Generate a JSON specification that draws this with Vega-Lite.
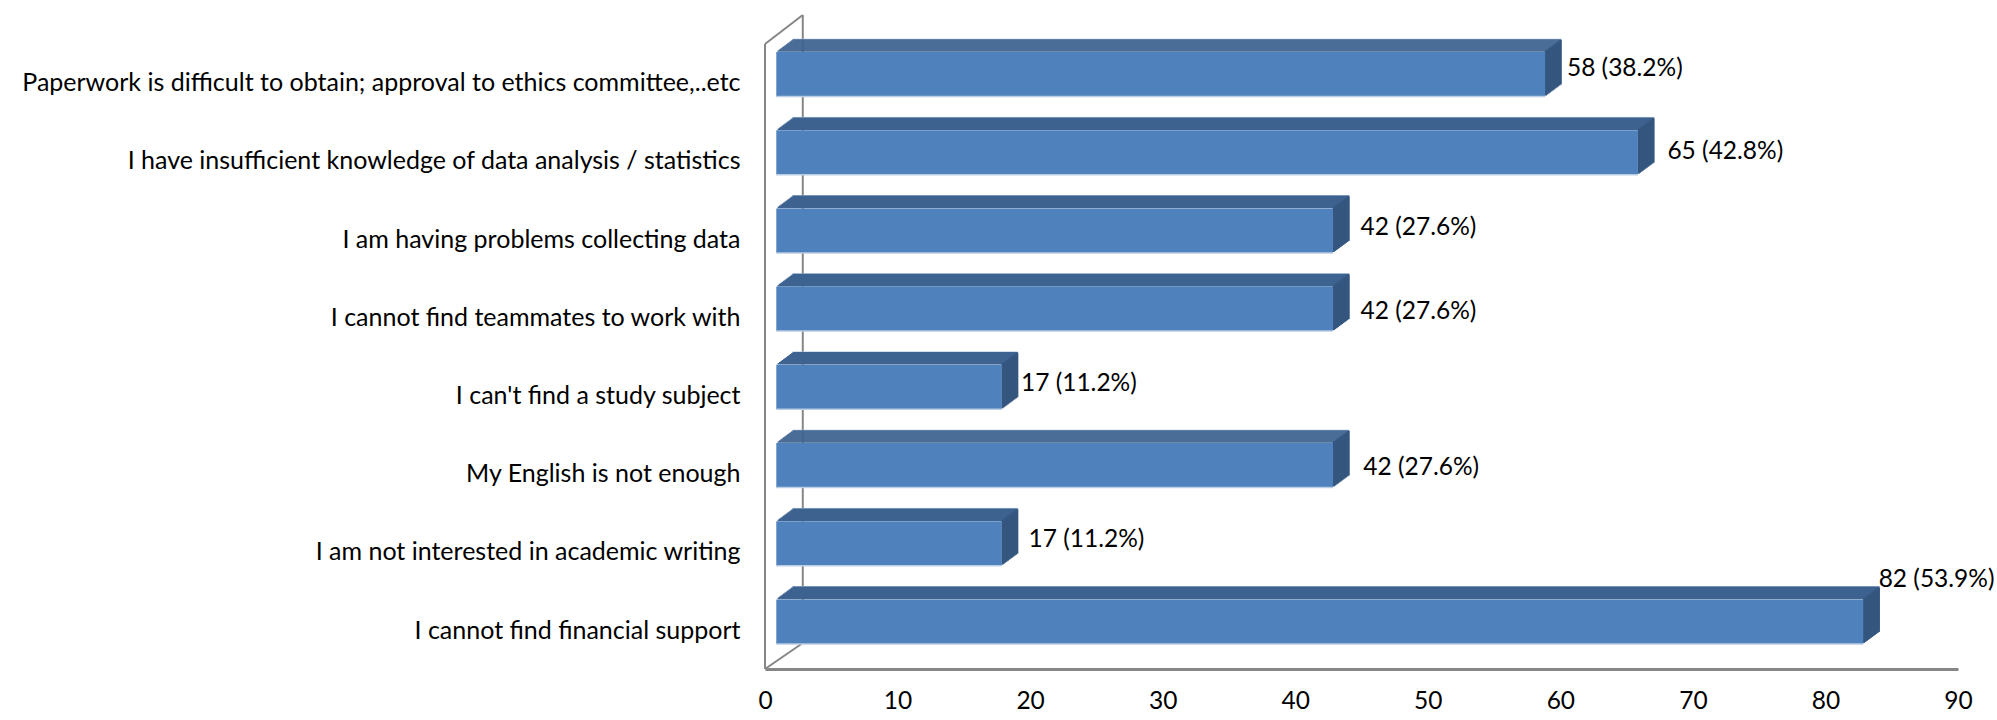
{"$schema":"https://vega.github.io/schema/vega-lite/v6.json","width":1193,"height":654,"autosize":{"type":"none"},"padding":{"left":765,"top":15,"right":39,"bottom":51},"background":"white",
"datasets":{"bars":[
{"reason":"Paperwork is difficult to obtain; approval to ethics committee,..etc","value":58,"label":"58 (38.2%)"},
{"reason":"I have insufficient knowledge of data analysis / statistics","value":65,"label":"65 (42.8%)"},
{"reason":"I am having problems collecting data","value":42,"label":"42 (27.6%)"},
{"reason":"I cannot find teammates to work with","value":42,"label":"42 (27.6%)"},
{"reason":"I can't find a study subject","value":17,"label":"17 (11.2%)"},
{"reason":"My English is not enough","value":42,"label":"42 (27.6%)"},
{"reason":"I am not interested in academic writing","value":17,"label":"17 (11.2%)"},
{"reason":"I cannot find financial support","value":82,"label":"82 (53.9%)"}]},
"config":{"view":{"stroke":null},"text":{"font":"Lato","fontSize":24.5,"color":"#000000","align":"left","baseline":"middle"}},
"resolve":{"scale":{"y":"independent"}},
"layer":[
{"data":{"values":[{}]},"layer":[
{"mark":{"type":"rule","color":"#868686","strokeWidth":2},"encoding":{"x":{"datum":0,"type":"quantitative","title":null,"scale":{"domain":[0,90]},"axis":{"grid":false,"ticks":false,"domainColor":"#868686","domainWidth":3,"labelFont":"Lato","labelFontSize":24.5,"labelColor":"#000000","labelPadding":20,"labelAngle":0,"labelFlush":false,"values":[0,10,20,30,40,50,60,70,80,90]}},"y":{"datum":0,"type":"quantitative","title":null,"axis":null,"scale":{"domain":[0,654],"nice":false}},"y2":{"datum":625}}},
{"mark":{"type":"rule","color":"#868686","strokeWidth":2},"encoding":{"x":{"datum":2.85,"type":"quantitative","title":null},"y":{"datum":26,"type":"quantitative","title":null,"axis":null},"y2":{"datum":654}}},
{"mark":{"type":"rule","color":"#868686","strokeWidth":2},"encoding":{"x":{"datum":0,"type":"quantitative","title":null},"x2":{"datum":2.85},"y":{"datum":625,"type":"quantitative","title":null,"axis":null},"y2":{"datum":654}}},
{"mark":{"type":"rule","color":"#868686","strokeWidth":2},"encoding":{"x":{"datum":0,"type":"quantitative","title":null},"x2":{"datum":2.85},"y":{"datum":0,"type":"quantitative","title":null,"axis":null},"y2":{"datum":26}}}
]},
{"data":{"name":"bars"},
"encoding":{"y":{"field":"reason","type":"nominal","sort":null,"title":null,"scale":{"paddingInner":0.431,"paddingOuter":0.397,"align":0.596},"axis":{"domain":false,"ticks":false,"labelFont":"Lato","labelFontSize":25,"labelColor":"#000000","labelLimit":800,"labelPadding":25,"labelOffset":9}},"x":{"field":"value","type":"quantitative","title":null}},
"layer":[
{"mark":{"type":"rule","color":"#A9C1DF","strokeWidth":1,"xOffset":27.5,"x2Offset":27.5,"yOffset":-12.8},"encoding":{"x":{"datum":0,"type":"quantitative","title":null},"x2":{"field":"value"},"y":{"field":"reason","type":"nominal","sort":null,"bandPosition":0,"title":null}}},
{"mark":{"type":"rule","color":"#3E6390","strokeWidth":1.6,"xOffset":27.5,"x2Offset":27.5,"yOffset":-12},"encoding":{"x":{"datum":0,"type":"quantitative","title":null},"x2":{"field":"value"},"y":{"field":"reason","type":"nominal","sort":null,"bandPosition":0,"title":null}}},
{"mark":{"type":"bar","color":"#34567F","xOffset":25,"x2Offset":28,"yOffset":-12},"encoding":{"x2":{"field":"value"}}},
{"mark":{"type":"rule","color":"#3E6390","strokeWidth":1.6,"xOffset":26.15,"x2Offset":26.15,"yOffset":-11},"encoding":{"x":{"datum":0,"type":"quantitative","title":null},"x2":{"field":"value"},"y":{"field":"reason","type":"nominal","sort":null,"bandPosition":0,"title":null}}},
{"mark":{"type":"bar","color":"#34567F","xOffset":23.65,"x2Offset":26.65,"yOffset":-11},"encoding":{"x2":{"field":"value"}}},
{"mark":{"type":"rule","color":"#3E6390","strokeWidth":1.6,"xOffset":24.8,"x2Offset":24.8,"yOffset":-10},"encoding":{"x":{"datum":0,"type":"quantitative","title":null},"x2":{"field":"value"},"y":{"field":"reason","type":"nominal","sort":null,"bandPosition":0,"title":null}}},
{"mark":{"type":"bar","color":"#34567F","xOffset":22.3,"x2Offset":25.3,"yOffset":-10},"encoding":{"x2":{"field":"value"}}},
{"mark":{"type":"rule","color":"#3E6390","strokeWidth":1.6,"xOffset":23.45,"x2Offset":23.45,"yOffset":-9},"encoding":{"x":{"datum":0,"type":"quantitative","title":null},"x2":{"field":"value"},"y":{"field":"reason","type":"nominal","sort":null,"bandPosition":0,"title":null}}},
{"mark":{"type":"bar","color":"#34567F","xOffset":20.95,"x2Offset":23.95,"yOffset":-9},"encoding":{"x2":{"field":"value"}}},
{"mark":{"type":"rule","color":"#3E6390","strokeWidth":1.6,"xOffset":22.1,"x2Offset":22.1,"yOffset":-8},"encoding":{"x":{"datum":0,"type":"quantitative","title":null},"x2":{"field":"value"},"y":{"field":"reason","type":"nominal","sort":null,"bandPosition":0,"title":null}}},
{"mark":{"type":"bar","color":"#34567F","xOffset":19.6,"x2Offset":22.6,"yOffset":-8},"encoding":{"x2":{"field":"value"}}},
{"mark":{"type":"rule","color":"#3E6390","strokeWidth":1.6,"xOffset":20.75,"x2Offset":20.75,"yOffset":-7},"encoding":{"x":{"datum":0,"type":"quantitative","title":null},"x2":{"field":"value"},"y":{"field":"reason","type":"nominal","sort":null,"bandPosition":0,"title":null}}},
{"mark":{"type":"bar","color":"#34567F","xOffset":18.25,"x2Offset":21.25,"yOffset":-7},"encoding":{"x2":{"field":"value"}}},
{"mark":{"type":"rule","color":"#3E6390","strokeWidth":1.6,"xOffset":19.4,"x2Offset":19.4,"yOffset":-6},"encoding":{"x":{"datum":0,"type":"quantitative","title":null},"x2":{"field":"value"},"y":{"field":"reason","type":"nominal","sort":null,"bandPosition":0,"title":null}}},
{"mark":{"type":"bar","color":"#34567F","xOffset":16.9,"x2Offset":19.9,"yOffset":-6},"encoding":{"x2":{"field":"value"}}},
{"mark":{"type":"rule","color":"#3E6390","strokeWidth":1.6,"xOffset":18.05,"x2Offset":18.05,"yOffset":-5},"encoding":{"x":{"datum":0,"type":"quantitative","title":null},"x2":{"field":"value"},"y":{"field":"reason","type":"nominal","sort":null,"bandPosition":0,"title":null}}},
{"mark":{"type":"bar","color":"#34567F","xOffset":15.55,"x2Offset":18.55,"yOffset":-5},"encoding":{"x2":{"field":"value"}}},
{"mark":{"type":"rule","color":"#3E6390","strokeWidth":1.6,"xOffset":16.7,"x2Offset":16.7,"yOffset":-4},"encoding":{"x":{"datum":0,"type":"quantitative","title":null},"x2":{"field":"value"},"y":{"field":"reason","type":"nominal","sort":null,"bandPosition":0,"title":null}}},
{"mark":{"type":"bar","color":"#34567F","xOffset":14.2,"x2Offset":17.2,"yOffset":-4},"encoding":{"x2":{"field":"value"}}},
{"mark":{"type":"rule","color":"#3E6390","strokeWidth":1.6,"xOffset":15.35,"x2Offset":15.35,"yOffset":-3},"encoding":{"x":{"datum":0,"type":"quantitative","title":null},"x2":{"field":"value"},"y":{"field":"reason","type":"nominal","sort":null,"bandPosition":0,"title":null}}},
{"mark":{"type":"bar","color":"#34567F","xOffset":12.85,"x2Offset":15.85,"yOffset":-3},"encoding":{"x2":{"field":"value"}}},
{"mark":{"type":"rule","color":"#3E6390","strokeWidth":1.6,"xOffset":14,"x2Offset":14,"yOffset":-2},"encoding":{"x":{"datum":0,"type":"quantitative","title":null},"x2":{"field":"value"},"y":{"field":"reason","type":"nominal","sort":null,"bandPosition":0,"title":null}}},
{"mark":{"type":"bar","color":"#34567F","xOffset":11.5,"x2Offset":14.5,"yOffset":-2},"encoding":{"x2":{"field":"value"}}},
{"mark":{"type":"rule","color":"#3E6390","strokeWidth":1.6,"xOffset":12.65,"x2Offset":12.65,"yOffset":-1},"encoding":{"x":{"datum":0,"type":"quantitative","title":null},"x2":{"field":"value"},"y":{"field":"reason","type":"nominal","sort":null,"bandPosition":0,"title":null}}},
{"mark":{"type":"bar","color":"#34567F","xOffset":11,"x2Offset":13.15,"yOffset":-1},"encoding":{"x2":{"field":"value"}}},
{"mark":{"type":"bar","color":"#4F81BD","xOffset":11.3,"x2Offset":11.3},"encoding":{"x":{"datum":0,"type":"quantitative","title":null},"x2":{"field":"value"}}},
{"mark":{"type":"rule","color":"#B9CDE5","strokeWidth":1.5,"xOffset":11.3,"x2Offset":11.3},"encoding":{"x":{"datum":0,"type":"quantitative","title":null},"x2":{"field":"value"},"y":{"field":"reason","type":"nominal","sort":null,"bandPosition":1,"title":null}}},
{"transform":[{"filter":"datum.reason==\"Paperwork is difficult to obtain; approval to ethics committee,..etc\""}],"mark":{"type":"text","dx":33.1,"dy":-5.5},"encoding":{"text":{"field":"label"}}},
{"transform":[{"filter":"datum.reason==\"I have insufficient knowledge of data analysis / statistics\""}],"mark":{"type":"text","dx":40.8,"dy":-0.5},"encoding":{"text":{"field":"label"}}},
{"transform":[{"filter":"datum.reason==\"I am having problems collecting data\""}],"mark":{"type":"text","dx":38.8,"dy":-2.5},"encoding":{"text":{"field":"label"}}},
{"transform":[{"filter":"datum.reason==\"I cannot find teammates to work with\""}],"mark":{"type":"text","dx":38.8,"dy":3},"encoding":{"text":{"field":"label"}}},
{"transform":[{"filter":"datum.reason==\"I can't find a study subject\""}],"mark":{"type":"text","dx":30.6,"dy":-3},"encoding":{"text":{"field":"label"}}},
{"transform":[{"filter":"datum.reason==\"My English is not enough\""}],"mark":{"type":"text","dx":41.5,"dy":2.5},"encoding":{"text":{"field":"label"}}},
{"transform":[{"filter":"datum.reason==\"I am not interested in academic writing\""}],"mark":{"type":"text","dx":38.2,"dy":-3},"encoding":{"text":{"field":"label"}}},
{"transform":[{"filter":"datum.value==82"}],"mark":{"type":"text","dx":26.7,"dy":-41.5},"encoding":{"text":{"field":"label"}}}
]}
]}
